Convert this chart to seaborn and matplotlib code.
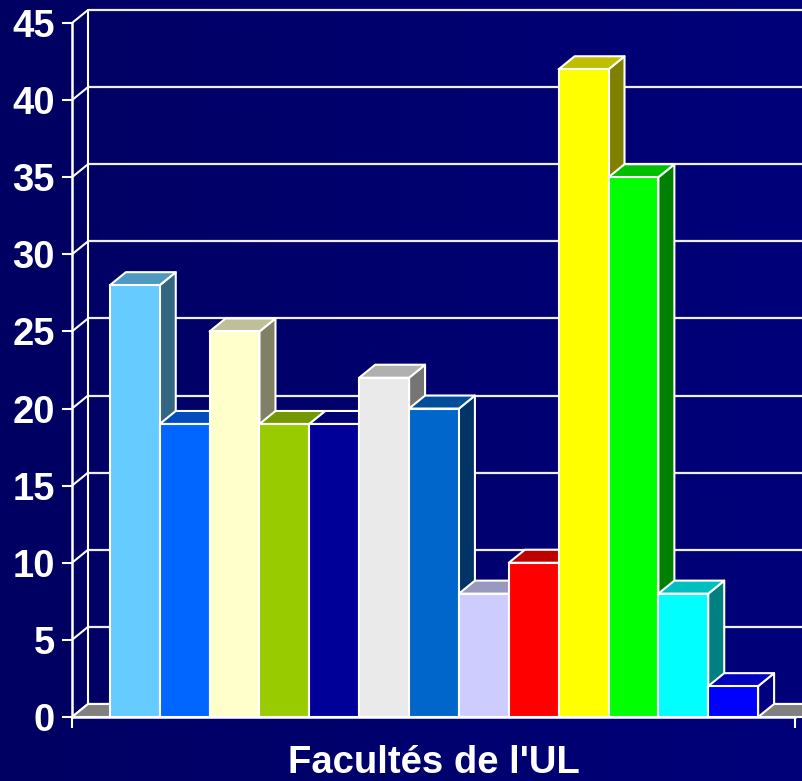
import numpy as np
import pandas as pd
import matplotlib
matplotlib.use("Agg")
import matplotlib.pyplot as plt
import matplotlib.colors as mcolors
from matplotlib.patches import Polygon
import seaborn as sns

# ---- data ----
categories = ["F1", "F2", "F3", "F4", "F5", "F6", "F7", "F8", "F9", "F10", "F11", "F12", "F13"]
values = [28, 19, 25, 19, 19, 22, 20, 8, 10, 42, 35, 8, 2]
bar_colors = ["#66ccff", "#0066ff", "#ffffcc", "#99cc00", "#000099", "#eaeaea", "#0066cc",
              "#ccccff", "#ff0000", "#ffff00", "#00ff00", "#00ffff", "#0000ff"]
y_ticks = [0, 5, 10, 15, 20, 25, 30, 35, 40, 45]
x_title = "Facultés de l'UL"

W, H, DPI = 802, 781, 100
sns.set_theme(style="white")
plt.rcParams["font.family"] = ["Liberation Sans", "DejaVu Sans"]

fig = plt.figure(figsize=(W / DPI, H / DPI), dpi=DPI)

# gradient background
bg = fig.add_axes([0, 0, 1, 1], zorder=-10)
grad = np.linspace(0, 1, 256)[None, :]
cmap = mcolors.LinearSegmentedColormap.from_list("bg", ["#000062", "#00007a"])
bg.imshow(grad, aspect="auto", cmap=cmap, extent=[0, 1, 0, 1])
bg.set_axis_off()

# main axes (front plane)
L, R, B, T = 72, 795, 717, 23
ax = fig.add_axes([L / W, (H - B) / H, (R - L) / W, (B - T) / H])
ax.patch.set_alpha(0)

df = pd.DataFrame({"cat": categories, "val": values})
sns.barplot(data=df, x="cat", y="val", hue="cat", palette=bar_colors, legend=False,
            width=1.0, saturation=1, edgecolor="white", linewidth=1.5, ax=ax)
bars = list(ax.patches)

n = len(categories)
x0, x1 = -1.26, n - 1 + 1.24
ax.set_xlim(x0, x1)
ax.set_ylim(0, 45)

# depth offset (pixels -> data units)
dx = 16 * (x1 - x0) / (R - L)
dy = 13 * 45 / (B - T)

def shade(c, f):
    r, g, b = mcolors.to_rgb(c)
    return (r * f, g * f, b * f)

edge = dict(edgecolor="white", linewidth=1.5, clip_on=False, joinstyle="round")

# back-wall gridlines and left wall
for t in y_ticks:
    ax.plot([x0 + dx, x1 + 3 * dx], [t + dy, t + dy], color="#eeeeee", lw=1.6,
            clip_on=False, zorder=1, solid_capstyle="butt")
    ax.plot([x0, x0 + dx], [t, t + dy], color="white", lw=1.5, clip_on=False, zorder=1)
ax.plot([x0 + dx, x0 + dx], [dy, 45 + dy], color="white", lw=1.5, clip_on=False, zorder=1)

# floor
floor = Polygon([(x0, 0), (x1 + 2 * dx, 0), (x1 + 3 * dx, dy), (x0 + dx, dy)],
                closed=True, facecolor="#808080", zorder=2, **edge)
ax.add_patch(floor)

# 3D bars: side + top faces, fronts from seaborn
for i, p in enumerate(bars):
    l = p.get_x()
    r = l + p.get_width()
    v = p.get_height()
    c = bar_colors[i]
    z = 10 + 3 * i
    side = Polygon([(r, 0), (r + dx, dy), (r + dx, v + dy), (r, v)], closed=True,
                   facecolor=shade(c, 0.5), zorder=z, **edge)
    top = Polygon([(l, v), (r, v), (r + dx, v + dy), (l + dx, v + dy)], closed=True,
                  facecolor=shade(c, 0.75), zorder=z + 1, **edge)
    ax.add_patch(side)
    ax.add_patch(top)
    p.set_zorder(z + 2)
    p.set_clip_on(False)

# axes styling
for s in ["top", "right"]:
    ax.spines[s].set_visible(False)
for s in ["left", "bottom"]:
    ax.spines[s].set_color("white")
    ax.spines[s].set_linewidth(1.8)
    ax.spines[s].set_zorder(60)
ax.set_yticks(y_ticks)
ax.set_yticklabels([str(t) for t in y_ticks], fontsize=27.5, fontweight="bold", color="white")
ax.set_xticks([x0, x1])
ax.set_xticklabels(["", ""])
ax.tick_params(axis="y", length=7.5, width=1.5, color="white", pad=5, left=True, direction="out")
ax.tick_params(axis="x", length=8, width=1.5, color="white", bottom=True, direction="out")
ax.set_xlabel(x_title, fontsize=27.5, fontweight="bold", color="white", labelpad=9)
ax.set_ylabel("")
ax.grid(False)

fig.savefig("out.png", dpi=DPI)
